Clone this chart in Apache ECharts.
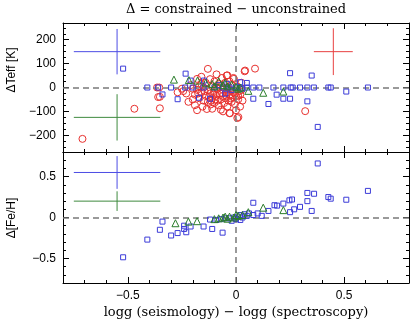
<!DOCTYPE html>
<html>
	<head>
		<meta charset="UTF-8">
		<title></title>
	</head>
	<body style="height: 100%; margin: 0">
		<div id="container" style="width: 414px; height: 320px"></div>
		<script src="https://cdn.jsdelivr.net/npm/echarts@6/dist/echarts.min.js" type="text/javascript" charset="utf-8"></script>
		<script type="text/javascript">
			// top panel: delta Teff [K] vs delta logg
			var teffRed = [
			    [-0.71,-215],[-0.47,-89],[-0.355,0],[-0.365,0],[-0.352,-39],[-0.352,-87],[-0.36,-40],[-0.23,-25],[-0.244,-15],
			    [-0.13,78],[-0.19,-74],[-0.155,-80],[-0.11,-89],[-0.07,-93],[-0.03,-107],[0.006,-128],[-0.043,50],[-0.012,40],
			    [0.04,68],[0.088,79],[-0.028,-108],[0.019,-80],[0.32,-99],[0.042,71],[-0.04,51],[-0.01,36],[-0.117,-71],
			    [0.011,-124],[-0.2,-5],[-0.21,10],[-0.18,36],
			    [-0.19,-30],[-0.18,-10],[-0.17,5],[-0.17,-45],[-0.16,-20],[-0.16,15],[-0.15,-55],[-0.15,0],[-0.14,-35],
			    [-0.14,20],[-0.13,-60],[-0.13,-10],[-0.12,-25],[-0.12,35],[-0.11,-45],[-0.11,5],[-0.10,-65],[-0.10,-15],
			    [-0.10,25],[-0.09,-35],[-0.09,0],[-0.085,-55],[-0.08,15],[-0.08,-75],[-0.075,-25],[-0.07,-50],[-0.07,5],
			    [-0.065,40],[-0.06,-35],[-0.06,-10],[-0.055,-65],[-0.05,20],[-0.05,-45],[-0.045,-20],[-0.04,0],[-0.04,-80],
			    [-0.035,-55],[-0.03,-30],[-0.03,25],[-0.025,-10],[-0.02,-60],[-0.02,10],[-0.015,-40],[-0.01,-20],[-0.005,-70],
			    [0.0,-35],[0.005,5],[0.01,-50],[0.015,-15],[0.02,-30],[0.025,20],[0.03,-55],[-0.2,-50],[-0.22,-60],
			    [-0.25,-5],[-0.27,-20],[-0.16,45],[-0.09,55],[-0.135,-90],[-0.06,-100],[0.0,-95],[-0.18,-95],
			    [-0.145,-15],[-0.125,-40],[-0.105,-30],[-0.095,-50],[-0.065,-25],[-0.045,-35],[-0.025,-45],[-0.005,-25],
			    [0.01,-35],[-0.085,-5],[-0.115,-55],[-0.175,-25],[0.025,-10]
			];
			var teffBlue = [
			    [-0.522,79],[-0.41,0],[-0.36,0],[-0.34,-29],[-0.30,0],[-0.27,-49],[-0.235,0],[-0.233,58],[-0.21,29],
			    [-0.171,-43],[-0.148,29],[-0.12,-47],[-0.05,-26],[-0.2,0],[-0.15,0],[-0.1,0],[-0.06,0],[-0.03,0],[0.0,0],
			    [0.019,0],[0.019,22],[0.05,0],[0.05,19],[0.08,0],[0.08,-47],[0.108,0],[0.15,-69],[0.173,0],[0.188,-30],
			    [0.219,0],[0.219,-47],[0.25,-47],[0.25,60],[0.253,0],[0.262,0],[0.296,0],[0.33,0],[0.33,-58],[0.35,50],
			    [0.36,0],[0.378,-165],[0.427,0],[0.438,0],[0.51,-17],[0.61,0],[-0.08,10],[-0.02,-10],[0.03,-5],[-0.04,15]
			];
			var teffGreen = [
			    [-0.287,33],[-0.218,31],[-0.178,29],[-0.14,20],[-0.11,15],[-0.08,26],[-0.06,10],[-0.04,5],[-0.02,12],
			    [0.0,3],[0.02,0],[-0.1,5],[0.057,-14],[0.126,-22],[0.219,-17],[-0.05,20],[0.01,-5]
			];
			// bottom panel: delta [Fe/H]
			var fehBlue = [
			    [-0.522,-0.486],[-0.41,-0.27],[-0.352,-0.15],[-0.34,-0.05],[-0.30,-0.22],[-0.27,-0.19],[-0.23,-0.18],
			    [-0.24,-0.14],[-0.24,-0.10],[-0.21,-0.11],[-0.15,-0.11],[-0.11,-0.14],[-0.062,-0.185],[-0.12,-0.025],
			    [-0.09,-0.03],[-0.07,-0.02],[-0.05,-0.01],[-0.03,-0.01],[-0.01,0.0],[0.0,-0.02],[0.01,0.01],[0.019,0.03],
			    [0.03,0.0],[0.04,0.04],[0.05,0.02],[0.06,0.05],[0.08,0.18],[0.08,0.03],[0.1,0.05],[0.119,0.02],[0.15,0.08],
			    [0.178,0.15],[0.19,0.145],[0.219,0.17],[0.247,0.21],[0.259,0.22],[0.25,0.065],[0.269,0.10],[0.296,0.13],
			    [0.33,0.30],[0.33,0.20],[0.35,0.08],[0.361,0.29],[0.378,0.66],[0.427,0.25],[0.438,0.23],[0.51,0.217],
			    [0.61,0.325],[-0.02,-0.04],[0.02,-0.03]
			];
			var fehGreen = [
			    [-0.28,-0.07],[-0.22,-0.05],[-0.18,-0.045],[-0.1,-0.02],[-0.08,-0.01],[-0.06,0.0],[-0.04,-0.015],
			    [-0.03,0.01],[-0.01,0.0],[0.01,0.02],[0.03,0.03],[0.057,0.065],[0.126,0.12],[0.219,0.09],[-0.05,0.01],[0.0,0.03]
			];
			// typical error crosses: x, y, xerr, yerr, colour name
			var teffErr = [[-0.55,150,0.2,95,'blue'],[-0.55,-125,0.2,97,'green'],[0.45,150,0.09,98,'red']];
			var fehErr = [[-0.55,0.55,0.2,0.2,'blue'],[-0.55,0.2,0.2,0.12,'green']];

			var xTicks = [-0.5, 0, 0.5];
			var teffTicks = [-200, -100, 0, 100, 200];
			var fehTicks = [-0.5, 0, 0.5];

			var colors = {red: '#e8312f', blue: '#3c3cd8', green: '#2b7d2b'};
			var errColors = {red: '#e84040', blue: '#4c4ce4', green: '#3f8a3f'};

			function steps(lo, hi, d) {
			    var out = [];
			    for (var v = lo; v <= hi + 1e-9; v += d) out.push(Math.round(v * 1000) / 1000);
			    return out;
			}
			var tickFont = {fontFamily: 'Liberation Sans', fontSize: 12, color: '#000'};
			function minus(v) { return String(v).replace('-', '\u2212'); }

			// minor + major tick axes on both sides of a grid
			function axisSet(grid, min, max, major, minor, pos1, pos2, labels, extra) {
			    var list = [];
			    [pos1, pos2].forEach(function (p, i) {
			        list.push(Object.assign({
			            type: 'value', gridIndex: grid, position: p, min: min, max: max,
			            axisLine: {show: true, onZero: false, lineStyle: {color: '#000', width: 1}},
			            axisTick: {show: true, inside: true, length: 3, customValues: minor, lineStyle: {color: '#000'}},
			            axisLabel: {show: labels && i === 0, customValues: major, margin: 7, formatter: minus, textStyle: tickFont},
			            splitLine: {show: false}
			        }, i === 0 ? extra : {}));
			        list.push({
			            type: 'value', gridIndex: grid, position: p, min: min, max: max,
			            axisLine: {show: false, onZero: false},
			            axisTick: {show: true, inside: true, length: 6, customValues: major, lineStyle: {color: '#000'}},
			            axisLabel: {show: false},
			            splitLine: {show: false}
			        });
			    });
			    return list;
			}

			var xAxes = axisSet(0, -0.8, 0.8, xTicks, steps(-0.8, 0.8, 0.1), 'bottom', 'top', false, {})
			    .concat(axisSet(1, -0.8, 0.8, xTicks, steps(-0.8, 0.8, 0.1), 'bottom', 'top', true, {
			        name: 'logg (seismology) \u2212 logg (spectroscopy)', nameLocation: 'middle', nameGap: 23,
			        nameTextStyle: {fontFamily: 'DejaVu Serif', fontSize: 13, color: '#000'}
			    }));
			var yAxes = axisSet(0, -270, 270, teffTicks, steps(-250, 250, 25), 'left', 'right', true, {})
			    .concat(axisSet(1, -0.8, 0.8, fehTicks, steps(-0.8, 0.8, 0.1), 'left', 'right', true, {}));

			function scatter(name, data, sym, size, col, xi, yi, z) {
			    return {
			        name: name, type: 'scatter', data: data, xAxisIndex: xi, yAxisIndex: yi,
			        symbol: sym, symbolSize: size, z: z, silent: true,
			        itemStyle: {color: 'rgba(0,0,0,0)', borderColor: col, borderWidth: 1, opacity: 1}
			    };
			}
			function crosses(errs, xi, yi) {
			    var out = [];
			    errs.forEach(function (e) {
			        var c = errColors[e[4]];
			        out.push({type: 'line', xAxisIndex: xi, yAxisIndex: yi, symbol: 'none', silent: true, z: 3,
			            data: [[e[0] - e[2], e[1]], [e[0] + e[2], e[1]]], lineStyle: {color: c, width: 1}});
			        out.push({type: 'line', xAxisIndex: xi, yAxisIndex: yi, symbol: 'none', silent: true, z: 3,
			            data: [[e[0], e[1] - e[3]], [e[0], e[1] + e[3]]], lineStyle: {color: c, width: 1}});
			    });
			    return out;
			}
			function zeroLines(xi, yi) {
			    return {type: 'line', xAxisIndex: xi, yAxisIndex: yi, data: [], z: 1,
			        markLine: {silent: true, symbol: 'none', label: {show: false},
			            lineStyle: {color: '#7a7a7a', type: [6, 4], width: 1.5},
			            data: [{xAxis: 0}, {yAxis: 0}]}};
			}

			var series = [zeroLines(0, 0), zeroLines(4, 4)]
			    .concat(crosses(teffErr, 0, 0), crosses(fehErr, 4, 4))
			    .concat([
			        scatter('teffRed', teffRed, 'circle', 7, colors.red, 0, 0, 4),
			        scatter('teffBlue', teffBlue, 'rect', 5, colors.blue, 0, 0, 5),
			        scatter('teffGreen', teffGreen, 'triangle', 7, colors.green, 0, 0, 6),
			        scatter('fehBlue', fehBlue, 'rect', 5, colors.blue, 4, 4, 5),
			        scatter('fehGreen', fehGreen, 'triangle', 7, colors.green, 4, 4, 6)
			    ]);

			var myChart = echarts.init(document.getElementById('container'));
			var option = {
			    animation: false,
			    backgroundColor: '#fff',
			    grid: [
			        {left: 63, right: 5, top: 23, height: 129},
			        {left: 63, right: 5, top: 152, height: 131}
			    ],
			    xAxis: xAxes,
			    yAxis: yAxes,
			    graphic: [
			        {type: 'text', x: 236, y: 10, style: {text: '\u0394 = constrained \u2212 unconstrained',
			            font: '13px "DejaVu Serif"', fill: '#000', textAlign: 'center', textVerticalAlign: 'middle'}},
			        {type: 'text', x: 6, y: 70, rotation: Math.PI / 2, style: {text: '\u0394Teff [K]', font: '12px "Liberation Sans"',
			            fill: '#000', textAlign: 'center', textVerticalAlign: 'top'}},
			        {type: 'text', x: 6, y: 218, rotation: Math.PI / 2, style: {text: '\u0394[Fe/H]', font: '12px "Liberation Sans"',
			            fill: '#000', textAlign: 'center', textVerticalAlign: 'top'}}
			    ],
			    series: series
			};
			myChart.setOption(option);
		</script>
	</body>
</html>
